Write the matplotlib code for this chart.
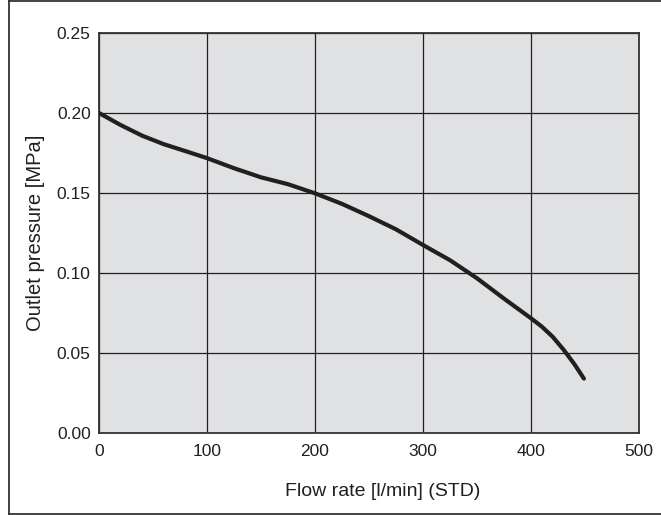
import matplotlib
matplotlib.use("Agg")
import matplotlib.pyplot as plt
from matplotlib.lines import Line2D

plt.rcParams['font.family'] = ['Liberation Sans', 'DejaVu Sans']

flow = [0, 20, 40, 60, 80, 100, 125, 150, 175, 200, 225, 250, 275, 300, 325, 350,
        375, 400, 410, 420, 430, 440, 449]
pressure = [0.2000, 0.1925, 0.1858, 0.1805, 0.1762, 0.1718, 0.1655, 0.1598, 0.1555, 0.1498,
            0.1432, 0.1355, 0.1273, 0.1175, 0.1080, 0.0967, 0.0840, 0.0717, 0.0665, 0.0602,
            0.0522, 0.0432, 0.0340]
xticks = [0, 100, 200, 300, 400, 500]
yticks = [0.00, 0.05, 0.10, 0.15, 0.20, 0.25]

fig = plt.figure(figsize=(6.61, 5.15), dpi=100)
ax = fig.add_axes([99/661, 1-433/515, 540/661, 400/515])
ax.set_facecolor('#e0e1e3')

ax.plot(flow, pressure, color='#231f20', lw=3.0, solid_capstyle='round', solid_joinstyle='round', zorder=3)

ax.set_xlim(0, 500)
ax.set_ylim(0, 0.25)
ax.set_xticks(xticks)
ax.set_yticks(yticks)
ax.set_xticklabels([str(v) for v in xticks])
ax.set_yticklabels([f"{v:.2f}" for v in yticks])
ax.tick_params(length=0, labelsize=12.5, colors='#231f20')
ax.tick_params(axis='x', pad=8)
ax.tick_params(axis='y', pad=6)
ax.grid(True, color='#231f20', lw=0.9)
ax.set_axisbelow(True)
for s in ax.spines.values():
    s.set_color('#333333')
    s.set_linewidth(1.3)

ax.set_xlabel('Flow rate [l/min] (STD)', fontsize=14, color='#231f20')
ax.set_ylabel('Outlet pressure [MPa]', fontsize=14.5, color='#231f20')
ax.xaxis.set_label_coords(0.526, -0.145)
ax.xaxis.label.set_va('center')
ax.yaxis.set_label_coords(-0.1185, 0.5)
ax.yaxis.label.set_va('center')

# figure border (top, left, bottom)
bx = 9/661
for (xs, ys) in [([bx, 1.0], [1-1/515, 1-1/515]), ([bx, bx], [1/515, 1-1/515]), ([bx, 1.0], [1/515, 1/515])]:
    fig.add_artist(Line2D(xs, ys, transform=fig.transFigure, color='#333333', lw=1.3))

fig.savefig('out.png', dpi=100)
